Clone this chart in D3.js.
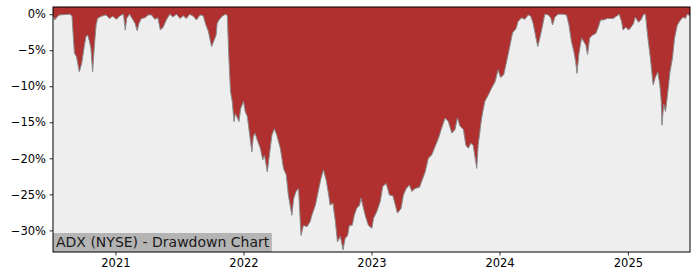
<!DOCTYPE html>
<html><head><meta charset="utf-8">
<script src="https://cdn.jsdelivr.net/npm/d3@7"></script>
<style>html,body{margin:0;padding:0;background:#fff;}svg{display:block;}</style>
</head><body>
<svg id="chart" width="700" height="280"></svg>
<script>
const dates = ["2020-07-07","2020-07-12","2020-07-20","2020-07-26","2020-08-23","2020-08-30","2020-09-06","2020-09-12","2020-09-20","2020-09-27","2020-10-04","2020-10-09","2020-10-14","2020-10-19","2020-10-23","2020-10-28","2020-11-02","2020-11-07","2020-11-11","2020-11-21","2020-12-05","2020-12-15","2020-12-24",
"2021-01-04","2021-01-14","2021-01-24","2021-01-29","2021-02-02","2021-02-10","2021-02-19","2021-02-26","2021-03-04","2021-03-09","2021-03-16","2021-03-26","2021-04-04","2021-04-14","2021-04-23","2021-05-02","2021-05-09","2021-05-17","2021-05-26","2021-06-05","2021-06-14","2021-06-24","2021-07-04","2021-07-13","2021-07-22","2021-08-01","2021-08-11","2021-08-20","2021-08-30","2021-09-08","2021-09-16","2021-09-23","2021-10-02","2021-10-07","2021-10-15","2021-10-18","2021-10-22","2021-10-27","2021-11-01","2021-11-11","2021-11-16","2021-11-20","2021-11-25","2021-11-30","2021-12-05","2021-12-09","2021-12-14","2021-12-19","2021-12-24",
"2022-01-01","2022-01-06","2022-01-12","2022-01-18","2022-01-25","2022-01-29","2022-02-03","2022-02-08","2022-02-18","2022-02-25","2022-03-02","2022-03-10","2022-03-16","2022-03-23","2022-03-30","2022-04-06","2022-04-16","2022-04-25","2022-05-03","2022-05-09","2022-05-14","2022-05-19","2022-05-24","2022-05-31","2022-06-07","2022-06-14","2022-06-21","2022-07-01","2022-07-10","2022-07-15","2022-07-25","2022-08-03","2022-08-10","2022-08-17","2022-08-25","2022-09-01","2022-09-05","2022-09-13","2022-09-20","2022-09-26","2022-10-04","2022-10-12","2022-10-18","2022-10-25","2022-10-30","2022-11-07","2022-11-13","2022-11-20","2022-11-28","2022-12-02","2022-12-07","2022-12-14","2022-12-23",
"2023-01-02","2023-01-07","2023-01-16","2023-01-26","2023-02-02","2023-02-12","2023-02-21","2023-03-03","2023-03-10","2023-03-16","2023-03-26","2023-04-02","2023-04-10","2023-04-19","2023-04-26","2023-05-05","2023-05-18","2023-05-24","2023-06-03","2023-06-12","2023-06-22","2023-07-01","2023-07-11","2023-07-20","2023-07-30","2023-08-08","2023-08-18","2023-08-27","2023-09-03","2023-09-10","2023-09-20","2023-09-27","2023-10-04","2023-10-11","2023-10-18","2023-10-28","2023-11-01","2023-11-11","2023-11-20","2023-11-30","2023-12-09","2023-12-19","2023-12-28",
"2024-01-04","2024-01-13","2024-01-21","2024-01-31","2024-02-07","2024-02-17","2024-02-23","2024-03-04","2024-03-13","2024-03-23","2024-03-30","2024-04-06","2024-04-14","2024-04-19","2024-04-25","2024-05-03","2024-05-09","2024-05-19","2024-05-26","2024-05-31","2024-06-07","2024-06-16","2024-06-30","2024-07-10","2024-07-17","2024-07-24","2024-07-31","2024-08-05","2024-08-09","2024-08-14","2024-08-22","2024-08-28","2024-09-03","2024-09-08","2024-09-14","2024-09-22","2024-10-01","2024-10-08","2024-10-15","2024-10-24","2024-11-03","2024-11-10","2024-11-20","2024-11-29","2024-12-07","2024-12-14","2024-12-18","2024-12-26",
"2025-01-03","2025-01-10","2025-01-17","2025-01-22","2025-01-31","2025-02-07","2025-02-15","2025-02-20","2025-02-26","2025-03-06","2025-03-14","2025-03-20","2025-03-27","2025-04-02","2025-04-06","2025-04-08","2025-04-13","2025-04-18","2025-04-23","2025-05-01","2025-05-08","2025-05-14","2025-05-22","2025-05-31","2025-06-08","2025-06-14","2025-06-19","2025-06-27"];
const drawdown = [-0.1,-0.8,-0.3,-0.1,0,-0.2,-5.4,-5.9,-8.0,-6.8,-4.5,-3.1,-2.9,-3.8,-4.7,-8.0,-4.3,-1.5,-0.6,-0.3,-0.1,-0.6,-0.3,
-0.7,-0.2,0,-2.2,-0.6,0,-0.7,-1.3,-2.3,-1.3,-0.6,-0.5,-0.1,-0.1,-0.7,-0.5,-2.2,-1.8,-0.8,0,-0.4,0,-0.6,-0.2,-0.6,0,-0.3,-0.8,-0.1,-0.2,-1.5,-2.4,-4.5,-3.9,-2.9,-1.3,-0.9,-0.6,-0.3,0,-0.2,-5.6,-10.7,-12.1,-14.9,-13.8,-14.3,-14.9,-13.1,
-12.1,-13.5,-14.2,-16.5,-19.1,-17.0,-16.5,-17.3,-18.6,-20.2,-19.6,-21.9,-19.5,-16.8,-15.9,-16.8,-18.6,-21.4,-22.3,-25.1,-26.5,-27.9,-25.6,-24.6,-24.2,-30.7,-29.3,-29.5,-28.8,-27.9,-26.5,-24.4,-22.8,-21.6,-23.1,-25.1,-26.5,-26.2,-28.8,-31.6,-30.8,-32.7,-31.1,-30.7,-29.3,-29.3,-27.9,-26.9,-26.5,-25.5,-26.5,-27.9,-29.3,
-29.7,-28.3,-27.4,-26.0,-23.9,-23.5,-25.1,-25.2,-26.5,-27.6,-27.0,-25.1,-24.2,-23.7,-24.6,-24.2,-24.0,-23.2,-21.9,-20.0,-19.5,-18.4,-17.2,-15.8,-14.4,-14.9,-16.5,-16.0,-14.4,-15.5,-16.0,-18.2,-18.6,-17.9,-18.2,-21.4,-18.2,-14.4,-12.1,-11.2,-10.3,-9.4,-7.7,
-8.8,-8.4,-6.6,-4.3,-2.6,-2.0,-1.0,-0.5,-0.7,-0.1,-0.3,-1.3,-3.3,-4.5,-3.3,-1.5,0,-0.1,-0.5,-1.5,-0.4,0,0,-0.1,-1.5,-3.8,-5.2,-6.6,-8.2,-5.6,-3.3,-3.8,-4.3,-5.6,-3.3,-2.9,-2.7,-1.9,-0.8,-0.8,-0.6,-0.6,-0.6,-0.3,0,-1.0,-2.2,-1.8,
-2.2,-1.8,-1.3,-0.4,-1.1,-0.8,0,0,-2.9,-6.1,-9.8,-8.8,-8.0,-9.8,-12.1,-15.4,-12.5,-13.5,-11.6,-8.0,-6.1,-3.3,-1.5,-0.8,-0.4,-0.6,0,-0.2];
const yTicks = [0,-5,-10,-15,-20,-25,-30];
const xTickYears = ["2021","2022","2023","2024","2025"];
const titleText = "ADX (NYSE) - Drawdown Chart";

const parse = d3.timeParse("%Y-%m-%d");
const data = dates.map((d,i)=>({date:parse(d), v:drawdown[i]}));

const m = {l:53, t:7, r:690, b:252};
const svg = d3.select("#chart");
const x = d3.scaleTime().domain(d3.extent(data,d=>d.date)).range([m.l,m.r]);
const y = d3.scaleLinear().domain([-33,1]).range([m.b,m.t]);

svg.append("rect").attr("x",m.l).attr("y",m.t).attr("width",m.r-m.l).attr("height",m.b-m.t).attr("fill","#eeeeee");

const area = d3.area().x(d=>x(d.date)).y0(y(1)).y1(d=>y(d.v));
svg.append("path").datum(data).attr("d",area).attr("fill","#b03030");
const line = d3.line().x(d=>x(d.date)).y(d=>y(d.v));
svg.append("path").datum(data).attr("d",line).attr("fill","none").attr("stroke","#8a8a8a").attr("stroke-width",1);

const fmt = v => (v<0?"\u2212":"") + Math.abs(v) + "%";
const yAxis = d3.axisLeft(y).tickValues(yTicks).tickFormat(fmt).tickSize(3.5).tickPadding(3.5);
const gy = svg.append("g").attr("transform",`translate(${m.l},0)`).call(yAxis);
const xAxis = d3.axisBottom(x).tickValues(xTickYears.map(s=>parse(s+"-01-01"))).tickFormat(d3.timeFormat("%Y")).tickSize(3.5).tickPadding(3.5);
const gx = svg.append("g").attr("transform",`translate(0,${m.b})`).call(xAxis);
[gy,gx].forEach(g=>{
  g.select(".domain").remove();
  g.selectAll("text").attr("font-family","DejaVu Sans").attr("font-size",11.5).attr("fill","#000");
  g.selectAll("line").attr("stroke","#000").attr("stroke-width",0.8);
});

// title box
const tb = svg.append("g");
const rectT = tb.append("rect").attr("fill","#b4b4b4");
const txt = tb.append("text").attr("x",m.l+3).attr("y",m.b-5).attr("font-family","DejaVu Sans").attr("font-size",14).attr("fill","#1a1a1a").text(titleText);
const bb = txt.node().getBBox();
rectT.attr("x",m.l).attr("y",m.b-19).attr("width",bb.width+5).attr("height",19);

svg.append("rect").attr("x",m.l).attr("y",m.t).attr("width",m.r-m.l).attr("height",m.b-m.t).attr("fill","none").attr("stroke","#000").attr("stroke-width",1);
</script>
</body></html>
